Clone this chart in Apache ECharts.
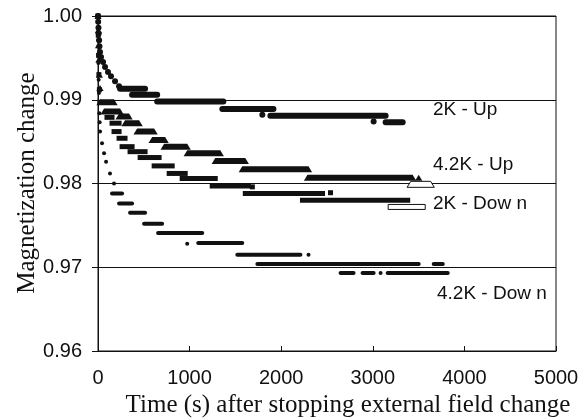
<!DOCTYPE html>
<html>
<head>
<meta charset="utf-8">
<script src="https://cdn.jsdelivr.net/npm/echarts@6/dist/echarts.min.js"></script>
<style>
  html, body { margin: 0; padding: 0; background: #fff; }
  #chart { width: 588px; height: 419px; }
</style>
</head>
<body>
<div id="chart"></div>
<script>
// x axis: time (s), y axis: relative magnetization
var xTicks = [0, 1000, 2000, 3000, 4000, 5000];
var yTicks = [0.96, 0.97, 0.98, 0.99, 1.00];

// each row: [t start, t end, value]; a single reading has start == end
var up2K = [
    [0, 0, 1.0000], [2, 2, 0.9993], [5, 5, 0.9986], [8, 8, 0.9979], [12, 12, 0.9971],
    [16, 16, 0.9964], [22, 22, 0.9957], [33, 33, 0.9951], [55, 55, 0.9945], [77, 77, 0.9939],
    [109, 109, 0.9933], [142, 142, 0.9928], [186, 186, 0.9922], [230, 230, 0.9916],
    [241, 514, 0.9913], [372, 646, 0.9906], [646, 1368, 0.9898], [1357, 1915, 0.9889],
    [1794, 1794, 0.9882], [1882, 3140, 0.9881], [3009, 3009, 0.9874], [3140, 3326, 0.9873]
];
var up42K = [
    [0, 0, 1.0000], [3, 3, 0.9983], [6, 6, 0.9965], [10, 10, 0.9948], [15, 15, 0.9930],
    [22, 22, 0.9914], [22, 175, 0.9897], [66, 241, 0.9886], [230, 339, 0.9880],
    [295, 449, 0.9872], [427, 613, 0.9862], [591, 733, 0.9852], [722, 974, 0.9844],
    [974, 1335, 0.9836], [1280, 1608, 0.9827], [1575, 2298, 0.9817], [2287, 3435, 0.9807],
    [3501, 3501, 0.9807], [3414, 3632, 0.9799]
];
var down2K = [
    [0, 0, 1.0000], [3, 3, 0.9977], [6, 6, 0.9953], [10, 10, 0.9930], [15, 15, 0.9912],
    [22, 22, 0.9897], [98, 153, 0.9879], [153, 230, 0.9872], [175, 230, 0.9862],
    [230, 295, 0.9854], [263, 372, 0.9844], [350, 514, 0.9838], [460, 667, 0.9831],
    [613, 810, 0.9821], [777, 952, 0.9812], [919, 1280, 0.9806], [1247, 1641, 0.9797],
    [1685, 1685, 0.9796], [1608, 2451, 0.9788], [2538, 2538, 0.9789], [2232, 3381, 0.9780],
    [3195, 3545, 0.9772]
];
var down42K = [
    [0, 0, 1.0000], [2, 2, 0.9971], [4, 4, 0.9944], [7, 7, 0.9924], [10, 10, 0.9908],
    [14, 14, 0.9884], [18, 18, 0.9873], [22, 22, 0.9862], [44, 44, 0.9848], [66, 66, 0.9836],
    [88, 88, 0.9826], [131, 131, 0.9812], [175, 175, 0.9800], [153, 263, 0.9788],
    [230, 372, 0.9776], [350, 514, 0.9765], [503, 700, 0.9752], [656, 1138, 0.9741],
    [974, 974, 0.9728], [1094, 1575, 0.9729], [1521, 2210, 0.9715], [2298, 2298, 0.9715],
    [1740, 3501, 0.9704], [3665, 3764, 0.9704], [2648, 2790, 0.9693], [2888, 3009, 0.9693],
    [3085, 3085, 0.9693], [3162, 3818, 0.9693]
];

var seriesNames = ['2K - Up', '4.2K - Up', '2K - Dow n', '4.2K - Dow n'];

// dense runs of markers drawn as one strip per plateau
function strip(shape, h, openLast) {
    return function (params, api) {
        var v = api.value(2);
        var a = api.coord([api.value(0), v]);
        var b = api.coord([api.value(1), v]);
        var open = openLast && params.dataIndexInside === params.dataInsideLength - 1;
        var style = open ? { fill: '#fff', stroke: '#111', lineWidth: 1 } : { fill: '#111' };
        if (shape === 'tri') {
            return {
                type: 'polygon',
                shape: { points: [[a[0] - h * 0.6, a[1] + h / 2], [a[0], a[1] - h / 2],
                    [b[0], b[1] - h / 2], [b[0] + h * 0.6, b[1] + h / 2]] },
                style: style
            };
        }
        return {
            type: 'rect',
            shape: { x: a[0] - h / 2, y: a[1] - h / 2, width: b[0] - a[0] + h, height: h,
                r: shape === 'round' ? h / 2 : 0 },
            style: style
        };
    };
}

function makeSeries(name, data, shape, h, openLast) {
    return {
        name: name,
        type: 'custom',
        data: data,
        encode: { x: [0, 1], y: 2 },
        renderItem: strip(shape, h, openLast),
        silent: true
    };
}

var label = function (text, x, y) {
    return {
        type: 'text', x: x, y: y,
        style: { text: text, fill: '#111', font: '19px "Liberation Sans"', align: 'left', verticalAlign: 'middle' }
    };
};

var chart = echarts.init(document.getElementById('chart'));
chart.setOption({
    animation: false,
    backgroundColor: '#fff',
    grid: { left: 98, right: 32, top: 16, bottom: 68, show: true, borderColor: '#111', borderWidth: 1 },
    xAxis: {
        type: 'value',
        min: xTicks[0],
        max: xTicks[xTicks.length - 1],
        interval: xTicks[1] - xTicks[0],
        axisLine: { lineStyle: { color: '#111', width: 1 } },
        axisTick: { inside: true, length: 5, lineStyle: { color: '#111' } },
        axisLabel: {
            color: '#111', fontSize: 20, fontFamily: 'Liberation Sans', margin: 17,
            formatter: function (v) { return String(v); }
        },
        splitLine: { show: false }
    },
    yAxis: {
        type: 'value',
        min: yTicks[0],
        max: yTicks[yTicks.length - 1],
        interval: 0.01,
        axisLine: { show: true, lineStyle: { color: '#111', width: 1 } },
        axisTick: { show: true, length: 6, lineStyle: { color: '#111' } },
        axisLabel: {
            color: '#111', fontSize: 20, fontFamily: 'Liberation Sans', margin: 16,
            formatter: function (v) { return v.toFixed(2); }
        },
        splitLine: { show: true, lineStyle: { color: '#111', width: 1 } }
    },
    graphic: [
        {
            type: 'text', x: 27, y: 183, rotation: Math.PI / 2,
            style: { text: 'Magnetization change', fill: '#111', font: '25px "Liberation Serif"',
                align: 'center', verticalAlign: 'middle' }
        },
        {
            type: 'text', x: 348, y: 405,
            style: { text: 'Time (s) after stopping external field change', fill: '#111',
                font: '25px "Liberation Serif"', align: 'center', verticalAlign: 'middle' }
        },
        label(seriesNames[0], 433, 110),
        label(seriesNames[1], 433, 165),
        label(seriesNames[2], 433, 204),
        label(seriesNames[3], 437, 294)
    ],
    series: [
        makeSeries(seriesNames[3], down42K, 'round', 4, false),
        makeSeries(seriesNames[2], down2K, 'square', 5, true),
        makeSeries(seriesNames[1], up42K, 'tri', 6, true),
        makeSeries(seriesNames[0], up2K, 'round', 6, false)
    ]
});
</script>
</body>
</html>
